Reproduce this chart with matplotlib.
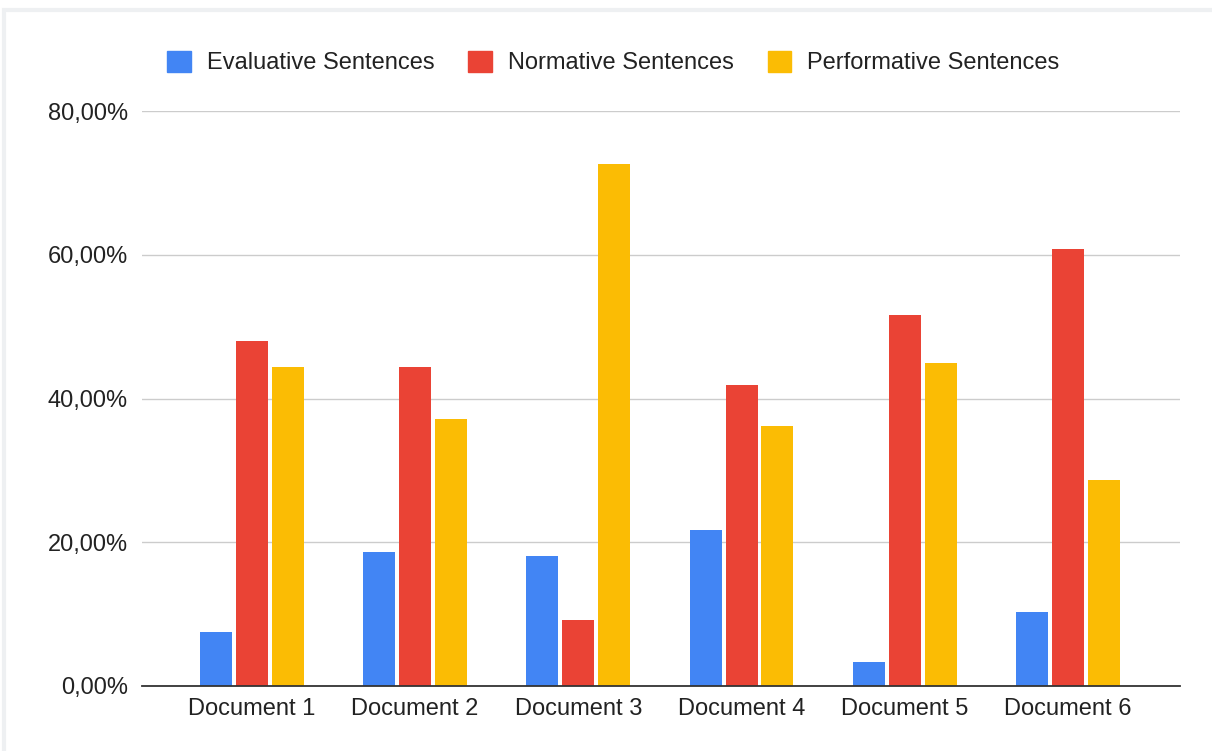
import matplotlib.pyplot as plt
import numpy as np
from matplotlib.patches import Patch, Rectangle
from matplotlib.ticker import FuncFormatter

plt.rcParams['font.family'] = ['Liberation Sans', 'DejaVu Sans']

# Datos (porcentajes).
documentos = ["Document 1", "Document 2", "Document 3", "Document 4", "Document 5", "Document 6"]
evaluativas = [7.5, 18.6, 18.1, 21.7, 3.3, 10.3]
normativas = [48.0, 44.4, 9.2, 41.9, 51.6, 60.8]
performativas = [44.4, 37.1, 72.6, 36.2, 44.9, 28.7]

series = ["Evaluative Sentences", "Normative Sentences", "Performative Sentences"]
colores = ["#4285F4", "#EA4335", "#FBBC04"]

fig = plt.figure(figsize=(12.12, 7.51), dpi=100)
fig.patch.set_facecolor("white")
# marco gris claro del lienzo
fig.patches.append(Rectangle((0.003, -0.01), 1.2, 0.997, transform=fig.transFigure,
                             facecolor="white", edgecolor="#eef0f2", linewidth=3, zorder=-1))

ax = fig.add_axes([0.117, 0.0866, 0.857, 0.7655])

x = np.arange(len(documentos))
ancho = 0.196
desp = 0.22
for k, (vals, col) in enumerate(zip([evaluativas, normativas, performativas], colores)):
    ax.bar(x + (k - 1) * desp, vals, width=ancho, color=col, zorder=3)

ax.set_ylim(0, 80)
ax.set_xlim(-0.675, 5.69)
ax.set_yticks([0, 20, 40, 60, 80])
ax.yaxis.set_major_formatter(FuncFormatter(lambda v, p: f"{v:.2f}%".replace(".", ",")))
ax.set_xticks(x)
ax.set_xticklabels(documentos)
ax.tick_params(axis="both", length=0, labelsize=17, labelcolor="#222222")
ax.tick_params(axis="y", pad=10)
ax.tick_params(axis="x", pad=9)
ax.grid(axis="y", color="#cccccc", linewidth=1, zorder=0)
for s in ["top", "right", "left"]:
    ax.spines[s].set_visible(False)
ax.spines["bottom"].set_color("#333333")
ax.spines["bottom"].set_linewidth(1.3)
ax.spines["bottom"].set_zorder(4)

handles = [Patch(facecolor=c, edgecolor=c) for c in colores]
fig.legend(handles, series, loc="center", bbox_to_anchor=(0.506, 0.917), ncol=3,
           frameon=False, fontsize=17, handlelength=1.0, handleheight=1.0,
           handletextpad=0.68, columnspacing=1.44, labelcolor="#222222")

fig.savefig("out.png", dpi=100)
